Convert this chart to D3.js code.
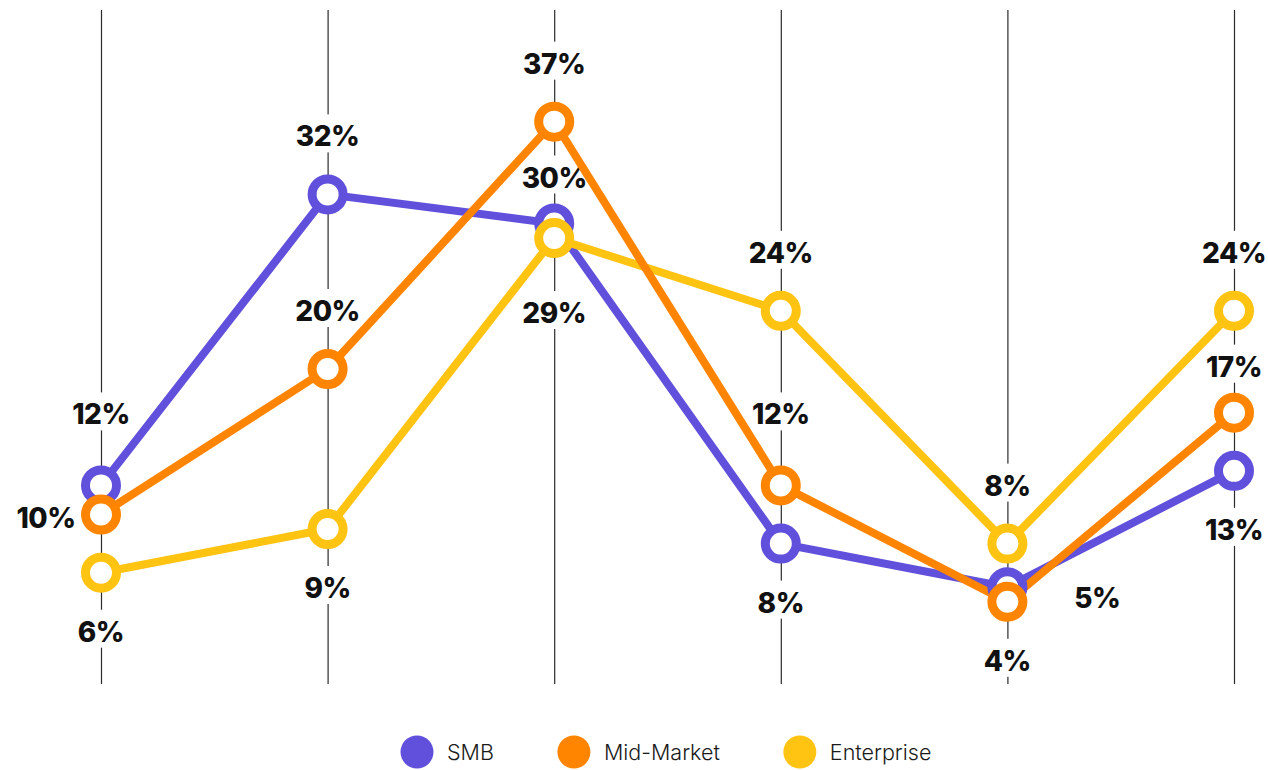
<!DOCTYPE html>
<html>
<head>
<meta charset="utf-8">
<script src="https://cdn.jsdelivr.net/npm/d3@7"></script>
<style>
  html, body { margin: 0; padding: 0; background: #fff; }
  svg { display: block; }
</style>
</head>
<body>
<svg id="chart"></svg>
<script>
// data
const categories = ["C1", "C2", "C3", "C4", "C5", "C6"];
const seriesNames = ["SMB", "Mid-Market", "Enterprise"];
const smbValues = [12, 32, 30, 8, 5, 13];
const midMarketValues = [10, 20, 37, 12, 4, 17];
const enterpriseValues = [6, 9, 29, 24, 8, 24];

// where each value label sits relative to its point
const smbLabelSide = ["topFar", "top", "topNear", "bottom", "right", "bottom"];
const midLabelSide = ["left", "top", "top", "topFar", "bottom", "topNear"];
const entLabelSide = ["bottom", "bottom", "bottomFar", "top", "top", "top"];

const colors = ["#6150db", "#ff8500", "#ffc312"];

const width = 1268, height = 770;

const series = seriesNames.map((name, i) => ({
  name: name,
  color: colors[i],
  values: [smbValues, midMarketValues, enterpriseValues][i],
  sides: [smbLabelSide, midLabelSide, entLabelSide][i]
}));

const svg = d3.select("#chart")
  .attr("width", width)
  .attr("height", height);

const x = d3.scalePoint()
  .domain(categories)
  .range([101, 1234]);

const y = d3.scaleLinear()
  .domain([0, 40])
  .range([660, 78]);

// vertical guide lines
svg.append("g")
  .selectAll("line")
  .data(categories)
  .join("line")
  .attr("x1", d => x(d) + 0.5)
  .attr("x2", d => x(d) + 0.5)
  .attr("y1", 10)
  .attr("y2", 684)
  .attr("stroke", "#2b2b2b")
  .attr("stroke-width", 1.2);

// label offsets by side
const sideOffset = {
  top: [0, -58],
  topNear: [0, -46],
  topFar: [0, -71],
  bottom: [0, 59],
  bottomFar: [0, 75],
  left: [-55, 3],
  right: [90, 11]
};

// labels (white box hides the guide line behind text)
const labelG = svg.append("g");
const labelFont = "'Inter', 'Open Sans', sans-serif";

series.forEach(s => {
  s.values.forEach((v, i) => {
    const off = sideOffset[s.sides[i]];
    const lx = x(categories[i]) + off[0];
    const ly = y(v) + off[1];
    const t = labelG.append("text")
      .attr("x", lx)
      .attr("y", ly)
      .attr("text-anchor", "middle")
      .attr("dominant-baseline", "central")
      .style("font-family", labelFont)
      .style("font-weight", 800)
      .style("font-size", "28px")
      .style("letter-spacing", "-0.5px")
      .attr("fill", "#111")
      .text(v + "%");
    const w = t.node().getComputedTextLength();
    labelG.insert("rect", "text")
      .attr("x", lx - w / 2 - 4)
      .attr("y", ly - 22)
      .attr("width", w + 8)
      .attr("height", 38)
      .attr("fill", "#fff");
  });
});

// lines
const line = d3.line()
  .x((d, i) => x(categories[i]))
  .y(d => y(d));

const lineOrder = [0, 2, 1];
svg.append("g")
  .selectAll("path")
  .data(lineOrder.map(i => series[i]))
  .join("path")
  .attr("d", d => line(d.values))
  .attr("fill", "none")
  .attr("stroke", d => d.color)
  .attr("stroke-width", 8)
  .attr("stroke-linejoin", "round");

// markers
series.forEach(s => {
  svg.append("g")
    .selectAll("circle")
    .data(s.values)
    .join("circle")
    .attr("cx", (d, i) => x(categories[i]))
    .attr("cy", d => y(d))
    .attr("r", 15.5)
    .attr("fill", "#fff")
    .attr("stroke", s.color)
    .attr("stroke-width", 9);
});

// legend
const legend = svg.append("g");
let lx = 401;
series.forEach(s => {
  legend.append("circle")
    .attr("cx", lx + 16)
    .attr("cy", 752)
    .attr("r", 16.5)
    .attr("fill", s.color);
  const t = legend.append("text")
    .attr("x", lx + 46)
    .attr("y", 752)
    .attr("dominant-baseline", "central")
    .style("font-family", labelFont)
    .style("font-weight", 300)
    .style("font-size", "21.5px")
    .attr("fill", "#1a1a1a")
    .text(s.name);
  lx += 46 + t.node().getComputedTextLength() + 64;
});
</script>
</body>
</html>
